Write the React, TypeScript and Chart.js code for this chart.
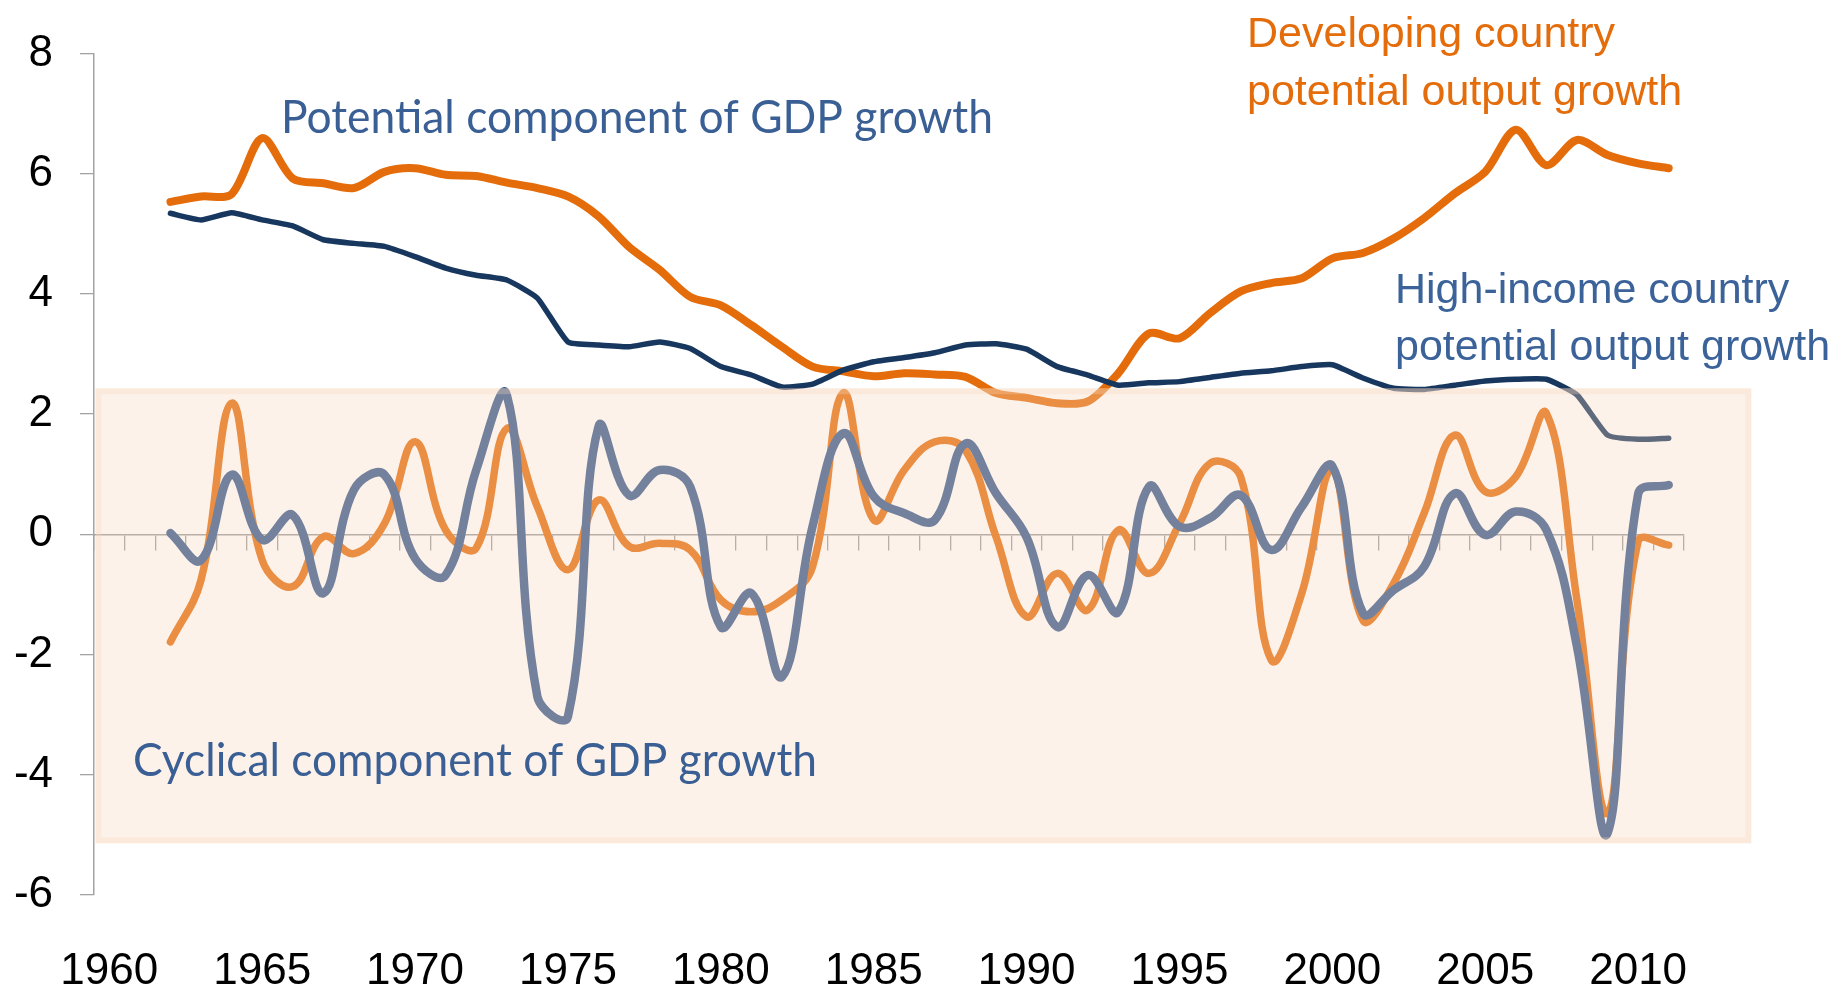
import React, { useEffect, useRef } from 'react';
import { Chart, registerables } from 'chart.js';

Chart.register(...registerables);

const YEARS = [
  '1960', '1961', '1962', '1963', '1964', '1965', '1966', '1967', '1968', '1969',
  '1970', '1971', '1972', '1973', '1974', '1975', '1976', '1977', '1978', '1979',
  '1980', '1981', '1982', '1983', '1984', '1985', '1986', '1987', '1988', '1989',
  '1990', '1991', '1992', '1993', '1994', '1995', '1996', '1997', '1998', '1999',
  '2000', '2001', '2002', '2003', '2004', '2005', '2006', '2007', '2008', '2009',
  '2010', '2011',
];
const X_TICK_LABELS = ['1960', '1965', '1970', '1975', '1980', '1985', '1990', '1995', '2000', '2005', '2010'];
const Y_MIN = -6;
const Y_MAX = 8;
const Y_STEP = 2;

// Developing country potential output growth (1960-2011)
const DEV_POTENTIAL = [
  null, null,
  5.53, 5.62, 5.66, 6.59, 5.92, 5.84, 5.76, 6.03,
  6.09, 5.98, 5.96, 5.85, 5.76, 5.62, 5.29, 4.78, 4.40, 3.95,
  3.81, 3.48, 3.12, 2.79, 2.71, 2.63, 2.68, 2.66, 2.62, 2.35,
  2.27, 2.18, 2.21, 2.68, 3.34, 3.26, 3.68, 4.04, 4.18, 4.26,
  4.59, 4.68, 4.92, 5.26, 5.67, 6.03, 6.73, 6.14, 6.56, 6.31,
  6.17, 6.09,
];
// High-income country potential output growth
const HIGH_POTENTIAL = [
  null, null,
  5.34, 5.23, 5.35, 5.23, 5.13, 4.90, 4.84, 4.79,
  4.62, 4.43, 4.31, 4.23, 3.93, 3.20, 3.15, 3.12, 3.20, 3.09,
  2.79, 2.65, 2.45, 2.50, 2.73, 2.87, 2.94, 3.02, 3.15, 3.17,
  3.08, 2.79, 2.65, 2.48, 2.52, 2.54, 2.61, 2.68, 2.72, 2.79,
  2.82, 2.60, 2.43, 2.41, 2.48, 2.55, 2.58, 2.58, 2.32, 1.65,
  1.58, 1.60,
];
// Developing country cyclical component
const DEV_CYCLICAL = [
  null, null,
  -1.79, -0.76, 2.18, -0.43, -0.87, -0.04, -0.32, 0.18,
  1.54, 0.07, -0.23, 1.76, 0.46, -0.59, 0.57, -0.20, -0.15, -0.26,
  -1.09, -1.29, -1.09, -0.54, 2.35, 0.24, 1.07, 1.54, 1.40, -0.04,
  -1.37, -0.65, -1.26, 0.07, -0.65, 0.18, 1.18, 0.96, -2.09, -0.98,
  1.07, -1.43, -0.82, 0.35, 1.65, 0.71, 0.96, 2.01, -1.10, -4.64,
  -0.12, -0.18,
];
// High-income country cyclical component
const HIGH_CYCLICAL = [
  null, null,
  0.02, -0.43, 0.99, -0.09, 0.32, -0.98, 0.74, 0.99,
  -0.40, -0.68, 1.07, 2.32, -2.70, -3.03, 1.79, 0.65, 1.07, 0.79,
  -1.54, -0.98, -2.37, 0.13, 1.68, 0.63, 0.35, 0.24, 1.51, 0.68,
  -0.05, -1.54, -0.68, -1.29, 0.79, 0.13, 0.27, 0.65, -0.26, 0.46,
  1.13, -1.31, -0.93, -0.54, 0.68, -0.01, 0.38, 0.07, -1.87, -4.97,
  0.67, 0.82,
];

// shaded "cyclical" band, in axis units (category index, value)
const BAND_X = [-0.45, 53.7];
const BAND_Y = [-5.14, 2.43];

const NOTES = [
  { lines: ['Potential component of GDP growth'], x: 281, y: [133], w: 712, font: '46px Lato', color: '#3A5F94' },
  { lines: ['Cyclical component of GDP growth'], x: 133, y: [776], w: 684, font: '46px Lato', color: '#3A5F94' },
  { lines: ['Developing country', 'potential output growth'], x: 1247, y: [47, 105], w: null, font: '43px "Liberation Sans"', color: '#E46C0A' },
  { lines: ['High-income country', 'potential output growth'], x: 1395, y: [303, 360], w: null, font: '43px "Liberation Sans"', color: '#3B639A' },
];

const bandPlugin = {
  id: 'cycBand',
  afterDatasetsDraw(chart: any) {
    const { ctx } = chart;
    const xs = chart.scales.x;
    const ys = chart.scales.y;
    const l = xs.getPixelForValue(BAND_X[0]);
    const r = xs.getPixelForValue(BAND_X[1]);
    const t = ys.getPixelForValue(BAND_Y[1]);
    const b = ys.getPixelForValue(BAND_Y[0]);
    ctx.save();
    ctx.fillStyle = 'rgba(250, 214, 190, 0.32)';
    ctx.fillRect(l, t, r - l, b - t);
    ctx.strokeStyle = 'rgba(250, 214, 190, 0.30)';
    ctx.lineWidth = 6;
    ctx.strokeRect(l + 3, t + 3, r - l - 6, b - t - 6);
    ctx.restore();
  },
};

const notesPlugin = {
  id: 'notes',
  afterDraw(chart: any) {
    const { ctx } = chart;
    NOTES.forEach((n) => {
      n.lines.forEach((line, i) => {
        ctx.save();
        ctx.font = n.font;
        ctx.fillStyle = n.color;
        ctx.textAlign = 'left';
        ctx.textBaseline = 'alphabetic';
        const m = ctx.measureText(line).width;
        ctx.translate(n.x, n.y[i]);
        if (n.w) ctx.scale(n.w / m, 1);
        ctx.fillText(line, 0, 0);
        ctx.restore();
      });
    });
  },
};

export default function App() {
  const ref = useRef<HTMLCanvasElement | null>(null);

  useEffect(() => {
    let chart: Chart | null = null;
    let cancelled = false;
    const make = () => {
      if (cancelled || !ref.current) return;
      const tickFont = { family: '"Liberation Sans", Arial, sans-serif', size: 44, lineHeight: 1.2 };
      chart = new Chart(ref.current, {
        type: 'line',
        data: {
          labels: YEARS,
          datasets: [
            { label: 'High-income cyclical', data: HIGH_CYCLICAL, borderColor: '#34598C', borderWidth: 8.5, tension: 0.4 },
            { label: 'Developing cyclical', data: DEV_CYCLICAL, borderColor: '#E46C0A', borderWidth: 7.5, tension: 0.4 },
            { label: 'High-income potential', data: HIGH_POTENTIAL, borderColor: '#17375E', borderWidth: 5.5, tension: 0.15 },
            { label: 'Developing potential', data: DEV_POTENTIAL, borderColor: '#E46C0A', borderWidth: 8, tension: 0.3 },
          ].map((d) => ({ ...d, pointRadius: 0, pointHoverRadius: 0, fill: false, borderCapStyle: 'round', borderJoinStyle: 'round' })) as any,
        },
        options: {
          responsive: false,
          devicePixelRatio: 1,
          animation: false,
          events: [],
          layout: { padding: { top: 53, right: 155, bottom: 0, left: 0 } },
          plugins: { legend: { display: false }, tooltip: { enabled: false } },
          scales: {
            x: {
              type: 'category',
              position: 'bottom',
              offset: true,
              grid: { display: false, drawTicks: false },
              border: { display: false },
              ticks: {
                autoSkip: false,
                maxRotation: 0,
                padding: 50,
                color: '#000000',
                font: tickFont,
                callback: (_v: any, i: number) => (X_TICK_LABELS.includes(YEARS[i]) ? YEARS[i] : ''),
              },
              afterFit: (s: any) => { s.height = 99; },
            },
            x0: {
              type: 'category',
              axis: 'x',
              position: { y: 0 },
              offset: true,
              grid: { display: true, offset: true, drawOnChartArea: false, drawTicks: true, tickLength: 15, color: '#9c9c9c', lineWidth: 1.3 },
              border: { display: true, color: '#9c9c9c', width: 1.6 },
              ticks: { display: false },
            },
            y: {
              type: 'linear',
              position: 'left',
              min: Y_MIN,
              max: Y_MAX,
              ticks: { stepSize: Y_STEP, padding: 27, color: '#000000', font: tickFont },
              grid: { display: true, drawOnChartArea: false, drawTicks: true, tickLength: 14, color: '#a3a3a3', lineWidth: 1.3 },
              border: { display: true, color: '#a3a3a3', width: 1.5 },
              afterFit: (s: any) => { s.width = 94; },
            },
          } as any,
        },
        plugins: [bandPlugin, notesPlugin],
      });
    };
    const fonts = (document as any).fonts;
    if (fonts && fonts.load) {
      Promise.all([
        fonts.load('46px Lato'),
        fonts.load('43px "Liberation Sans"'),
      ]).then(make, make);
    } else {
      make();
    }
    return () => {
      cancelled = true;
      if (chart) chart.destroy();
    };
  }, []);

  return (
    <div style={{ position: 'fixed', left: 0, top: 0, width: 1839, height: 994, background: '#ffffff' }}>
      <canvas ref={ref} width={1839} height={994} style={{ display: 'block' }} />
    </div>
  );
}
